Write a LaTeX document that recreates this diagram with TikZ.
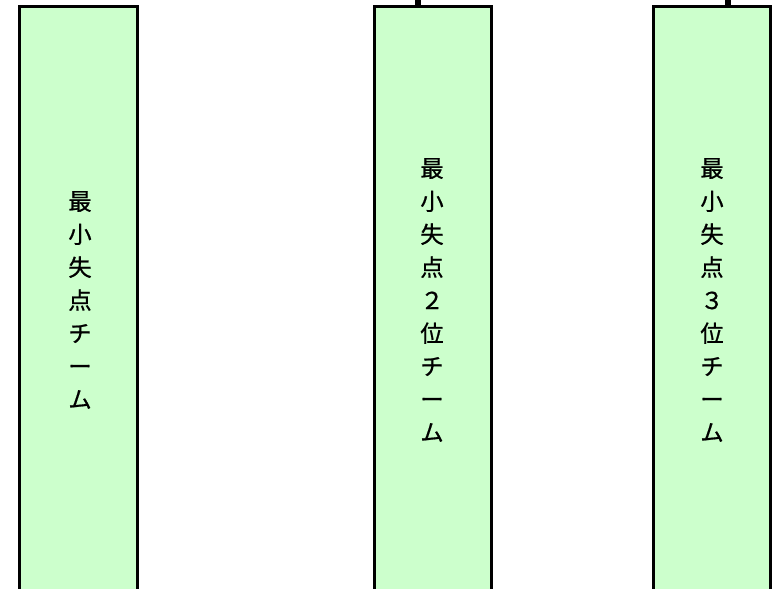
\documentclass[tikz,border=0pt]{standalone}
\usepackage{fontspec}
\newfontfamily\jp[FakeBold=0.8]{Noto Sans CJK JP}
\definecolor{teamgreen}{HTML}{CCFFCC}
\tikzset{
  teambox/.style={draw=black, line width=2.4pt, fill=teamgreen, anchor=north,
    minimum width=88pt, minimum height=460pt, inner sep=0pt},
  teamtext/.style={align=center, font=\jp\fontsize{17.5}{24.75}\selectfont},
  stub/.style={line width=4.5pt}
}
\begin{document}
\begin{tikzpicture}[x=0.75pt, y=-0.75pt]
		\useasboundingbox (0,0) rectangle (779,589);
		\clip (0,0) rectangle (779,589);
		% teams
		\node[teambox] (first) at (78.5,5) {};
		\node[teambox] (second) at (433,5) {};
		\node[teambox] (third) at (712,5) {};
		\node[teamtext] (firstlbl) at (80,300) {最\\小\\失\\点\\チ\\ー\\ム};
		\node[teamtext] (secondlbl) at (432,300) {最\\小\\失\\点\\２\\位\\チ\\ー\\ム};
		\node[teamtext] (thirdlbl) at (712,300) {最\\小\\失\\点\\３\\位\\チ\\ー\\ム};
		% lines from above
		\coordinate (secondup) at (418,-10);
		\coordinate (thirdup) at (728,-10);
		\draw[stub] (secondup) -- (secondup |- second.north);
		\draw[stub] (thirdup) -- (thirdup |- third.north);
\end{tikzpicture}
\end{document}
